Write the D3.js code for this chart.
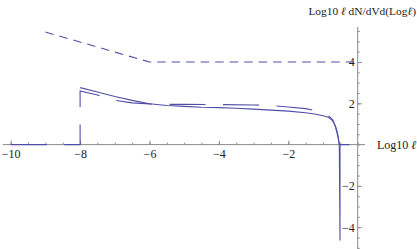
<!DOCTYPE html>
<html>
<head>
<meta charset="utf-8">
<script src="https://cdn.jsdelivr.net/npm/d3@7"></script>
<style>
  body { margin: 0; background: #fff; }
  text { font-family: "Liberation Serif", "Times New Roman", serif; }
</style>
</head>
<body>
<div id="chart"></div>
<script>
var svgWidth = 417;
var svgHeight = 249;

// data
var solidX = [-8, -7.5, -7, -6.5, -6, -5.5, -5, -4.5, -4, -3.5, -3, -2.5, -2, -1.5, -1.2, -1.0, -0.85, -0.75, -0.68, -0.62, -0.57, -0.53, -0.51, -0.51, -0.24];
var solidY = [2.76, 2.55, 2.33, 2.14, 1.98, 1.89, 1.85, 1.81, 1.79, 1.76, 1.72, 1.67, 1.62, 1.54, 1.47, 1.40, 1.33, 1.20, 1.05, 0.80, 0.45, 0, -4.65, 0, 0];

var longDashX = [-10, -8, -8, -7.5, -7, -6.5, -6, -5.5, -5, -4, -3, -2.5, -2, -1.5, -1.2, -1.0, -0.85, -0.72, -0.64, -0.57, -0.53];
var longDashY = [0, 0, 2.6, 2.4, 2.15, 2.02, 1.97, 1.95, 1.95, 1.94, 1.92, 1.89, 1.82, 1.74, 1.64, 1.52, 1.40, 1.20, 0.85, 0.40, 0];

var shortDashX = [-9, -6, 0];
var shortDashY = [5.45, 4, 4];

var xTicks = [-10, -8, -6, -4, -2];
var yTicks = [-4, -2, 2, 4];

var svg = d3.select("#chart")
  .append("svg")
  .attr("width", svgWidth)
  .attr("height", svgHeight);

var x = d3.scaleLinear().domain([-10, 0]).range([10.7, 357.7]);
var y = d3.scaleLinear().domain([0, 4]).range([144.6, 62]);

var axisColor = "#8a8a8a";
var lineColor = "#4f4fa8";
var fmt = d3.format("d");

// x axis
var xg = svg.append("g").attr("transform", `translate(0, ${y(0)})`);
xg.append("line")
  .attr("x1", x(-10.23)).attr("x2", x(0.21))
  .attr("stroke", axisColor);
var minorX = d3.range(-10, 0.01, 0.5);
xg.append("g")
  .call(d3.axisBottom(x).tickValues(minorX).tickSizeInner(-2).tickSizeOuter(0).tickFormat(""))
  .call(g => g.select(".domain").remove())
  .call(g => g.selectAll("line").attr("stroke", axisColor));
xg.append("g")
  .call(d3.axisBottom(x).tickValues(xTicks).tickFormat(fmt).tickSizeInner(-4).tickSizeOuter(0).tickPadding(5))
  .call(g => g.select(".domain").remove())
  .call(g => g.selectAll("line").attr("stroke", axisColor))
  .call(g => g.selectAll("text").attr("font-size", 12).attr("fill", "#222")
    .style("font-family", "'Liberation Serif', serif"));

// y axis
var yg = svg.append("g").attr("transform", `translate(${x(0)}, 0)`);
yg.append("line")
  .attr("y1", y(5.7)).attr("y2", y(-5.1))
  .attr("stroke", axisColor);
var minorY = d3.range(-5, 5.51, 0.5);
yg.append("g")
  .call(d3.axisLeft(y).tickValues(minorY).tickSizeInner(-2).tickSizeOuter(0).tickFormat(""))
  .call(g => g.select(".domain").remove())
  .call(g => g.selectAll("line").attr("stroke", axisColor));
yg.append("g")
  .call(d3.axisLeft(y).tickValues(yTicks).tickFormat(fmt).tickSizeInner(-4).tickSizeOuter(0).tickPadding(3))
  .call(g => g.select(".domain").remove())
  .call(g => g.selectAll("line").attr("stroke", axisColor))
  .call(g => g.selectAll("text").attr("font-size", 12).attr("fill", "#222")
    .style("font-family", "'Liberation Serif', serif"));

// axis labels
var yLab = svg.append("text")
  .attr("x", 416).attr("y", 15)
  .attr("text-anchor", "end")
  .attr("font-size", 11.4)
  .attr("fill", "#222");
yLab.append("tspan").text("Log10 ");
yLab.append("tspan").attr("font-style", "italic").text("\u2113");
yLab.append("tspan").text(" dN/dVd(Log");
yLab.append("tspan").attr("font-style", "italic").text("\u2113");
yLab.append("tspan").text(")");

var xLab = svg.append("text")
  .attr("x", 377).attr("y", 149)
  .attr("font-size", 12)
  .attr("fill", "#222");
xLab.append("tspan").text("Log10 ");
xLab.append("tspan").attr("font-style", "italic").text("\u2113");

// curves
var line = d3.line()
  .x(d => x(d[0]))
  .y(d => y(d[1]));

function pairs(xs, ys) {
  return xs.map((v, i) => [v, ys[i]]);
}

svg.append("path")
  .datum(pairs(shortDashX, shortDashY))
  .attr("d", line)
  .attr("fill", "none")
  .attr("stroke", lineColor)
  .attr("stroke-width", 1.1)
  .attr("stroke-dasharray", "8.5,6");

svg.append("path")
  .datum(pairs(longDashX, longDashY))
  .attr("d", line)
  .attr("fill", "none")
  .attr("stroke", lineColor)
  .attr("stroke-width", 1.1)
  .attr("stroke-dasharray", "36,17.5");

svg.append("path")
  .datum(pairs(solidX, solidY))
  .attr("d", line)
  .attr("fill", "none")
  .attr("stroke", lineColor)
  .attr("stroke-width", 1.1);
</script>
</body>
</html>
